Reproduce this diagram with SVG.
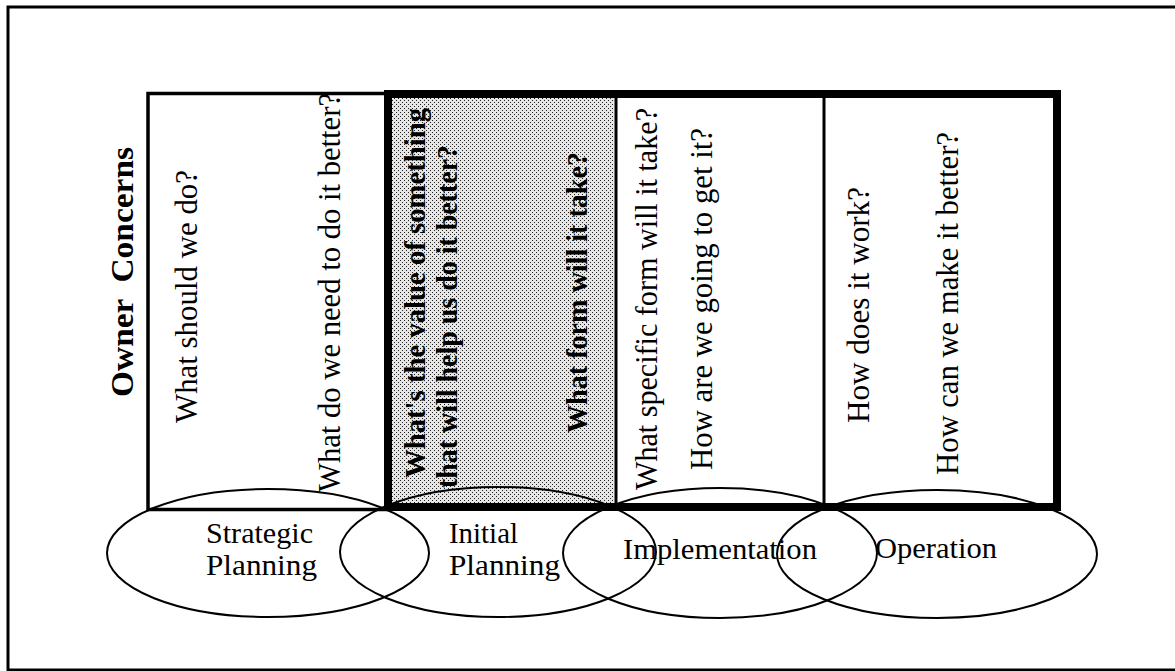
<svg xmlns="http://www.w3.org/2000/svg" width="1175" height="671" viewBox="0 0 1175 671">
  <style>
    .frame { fill: none; stroke: #000; stroke-width: 3; }
    .thin { fill: none; stroke: #000; stroke-width: 3.5; }
    .thick { fill: none; stroke: #000; stroke-width: 8; }
    .divider { stroke: #000; stroke-width: 3; }
    .phase { fill: none; stroke: #000; stroke-width: 2; }
    .q { font-family: "Liberation Serif", "Times New Roman", serif; font-size: 30.5px; fill: #000; }
    .qb { font-family: "Liberation Serif", "Times New Roman", serif; font-size: 29px; font-weight: bold; fill: #000; }
    .title { font-family: "Liberation Serif", "Times New Roman", serif; font-size: 32px; font-weight: bold; fill: #000; }
    .label { font-family: "Liberation Serif", "Times New Roman", serif; font-size: 30px; fill: #000; }
  </style>
  <defs>
    <!-- halftone screen for the highlighted column -->
    <pattern id="halftone" patternUnits="userSpaceOnUse" x="0" y="0" width="4" height="4">
      <rect width="4" height="4" fill="#e6e6e6"/>
      <rect x="0" y="0" width="1" height="1" fill="#222"/>
      <rect x="2" y="2" width="1" height="1" fill="#222"/>
    </pattern>
  </defs>

  <rect width="1175" height="671" fill="#fff"/>

  <!-- page frame -->
  <rect class="frame" x="8" y="7" width="1190" height="663"/>

  <!-- side title -->
  <g id="owner-concerns">
    <text class="title" xml:space="preserve" transform="translate(133,397) rotate(-90)" textLength="250" lengthAdjust="spacingAndGlyphs">Owner  Concerns</text>
  </g>

  <!-- column: strategic planning questions -->
  <g id="col-strategic">
    <rect class="thin" x="148" y="93.5" width="240" height="416"/>
    <text class="q" transform="translate(197,423) rotate(-90)" textLength="253" lengthAdjust="spacingAndGlyphs">What should we do?</text>
    <text class="q" transform="translate(340,492) rotate(-90)" textLength="399" lengthAdjust="spacingAndGlyphs">What do we need to do it better?</text>
  </g>

  <!-- column: initial planning questions (highlighted) -->
  <g id="col-initial">
    <rect x="392" y="98" width="222" height="405" fill="url(#halftone)"/>
    <text class="qb" transform="translate(425,478) rotate(-90)" textLength="370" lengthAdjust="spacingAndGlyphs">What's the value of something</text>
    <text class="qb" transform="translate(457,488) rotate(-90)" textLength="343" lengthAdjust="spacingAndGlyphs">that will help us do it better?</text>
    <text class="qb" transform="translate(587,433) rotate(-90)" textLength="281" lengthAdjust="spacingAndGlyphs">What form will it take?</text>
  </g>

  <!-- column: implementation questions -->
  <g id="col-implementation">
    <line class="divider" x1="616" y1="94" x2="616" y2="507"/>
    <text class="q" transform="translate(657,490) rotate(-90)" textLength="382" lengthAdjust="spacingAndGlyphs">What specific form will it take?</text>
    <text class="q" transform="translate(712,470) rotate(-90)" textLength="342" lengthAdjust="spacingAndGlyphs">How are we going to get it?</text>
  </g>

  <!-- column: operation questions -->
  <g id="col-operation">
    <line class="divider" x1="824" y1="94" x2="824" y2="507"/>
    <text class="q" transform="translate(869,423) rotate(-90)" textLength="236" lengthAdjust="spacingAndGlyphs">How does it work?</text>
    <text class="q" transform="translate(958,475) rotate(-90)" textLength="343" lengthAdjust="spacingAndGlyphs">How can we make it better?</text>
  </g>

  <!-- heavy outline around the last three columns -->
  <rect class="thick" x="388" y="94" width="669" height="413"/>

  <!-- overlapping phase ellipses -->
  <g id="phase-strategic">
    <ellipse class="phase" cx="268" cy="553" rx="161" ry="64"/>
    <text class="label" x="206" y="543" textLength="107" lengthAdjust="spacingAndGlyphs">Strategic</text>
    <text class="label" x="206" y="575" textLength="111" lengthAdjust="spacingAndGlyphs">Planning</text>
  </g>
  <g id="phase-initial">
    <ellipse class="phase" cx="498" cy="552" rx="158" ry="65"/>
    <text class="label" x="449" y="543" textLength="69" lengthAdjust="spacingAndGlyphs">Initial</text>
    <text class="label" x="449" y="575" textLength="111" lengthAdjust="spacingAndGlyphs">Planning</text>
  </g>
  <g id="phase-implementation">
    <ellipse class="phase" cx="720" cy="553" rx="157" ry="65"/>
    <text class="label" x="623" y="559" textLength="194" lengthAdjust="spacingAndGlyphs">Implementation</text>
  </g>
  <g id="phase-operation">
    <ellipse class="phase" cx="937" cy="554" rx="160" ry="64"/>
    <text class="label" x="875" y="558" textLength="122" lengthAdjust="spacingAndGlyphs">Operation</text>
  </g>
</svg>
